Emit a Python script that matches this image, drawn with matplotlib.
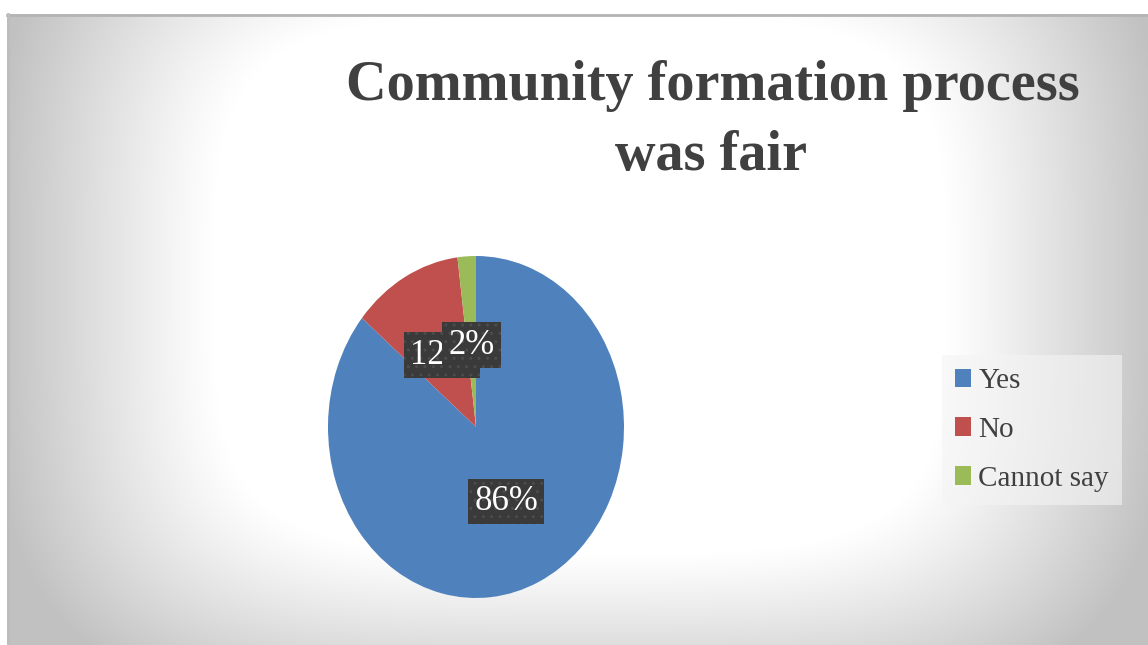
import numpy as np
import matplotlib
matplotlib.use("Agg")
import matplotlib.pyplot as plt
from matplotlib.patches import Patch

# Survey answers
categories = ["Yes", "No", "Cannot say"]
shares = [86, 12, 2]
colors = ["#4f81bd", "#c0504d", "#9bbb59"]
title_lines = ["Community formation process", "was fair"]

W, H = 1148, 645
SERIF = ["Liberation Serif", "DejaVu Serif"]
TEXT_COLOR = "#404040"

fig = plt.figure(figsize=(W / 100, H / 100), dpi=100)
fig.patch.set_facecolor("white")

# Chart-area background: soft white glow fading to grey at the borders
bg = fig.add_axes([0, 0, 1, 1])
bg.set_xlim(0, W)
bg.set_ylim(H, 0)
bg.axis("off")
x0, y0 = 7, 14
yy, xx = np.mgrid[y0:H, x0:W] + 0.5
dx = np.abs(xx - 580) / 570
dy = np.abs(yy - 285) / 420
t = (dx ** 4 + dy ** 4) ** 0.25
u = np.clip((t - 0.64) / 0.38, 0, 1)
v = 1 - 0.24 * u ** 1.1
bg.imshow(np.dstack([v, v, v]), extent=(x0, W, H, y0),
          interpolation="bilinear", aspect="auto", zorder=0)
bg.plot([x0, W], [y0 + 1, y0 + 1], color="#b4b4b4", lw=2, zorder=1)
bg.plot([x0 + 1, x0 + 1], [y0, H], color="#bdbdbd", lw=2, zorder=1)

# Pie, stretched vertically
rx, ry = 148, 171
cx, cy = 476, 427
ax = fig.add_axes([(cx - 1.25 * rx) / W, (H - cy - 1.25 * ry) / H,
                   2.5 * rx / W, 2.5 * ry / H])
wedges, _, autotexts = ax.pie(
    shares, colors=colors, startangle=90, counterclock=False,
    autopct="%1.0f%%", pctdistance=0.48,
    wedgeprops=dict(linewidth=0))
ax.set_aspect("auto")
ax.set_xlim(-1.25, 1.25)
ax.set_ylim(-1.25, 1.25)
ax.axis("off")
ax.patch.set_alpha(0)

for txt in autotexts:
    txt.set_color("white")
    txt.set_fontsize(25)
    txt.set_family(SERIF)
    txt.set_bbox(dict(boxstyle="square,pad=0.18", facecolor="#3a3a3a",
                      edgecolor="#4c4c4c", hatch="..", linewidth=0))

# Title
fig.text(713 / W, 1 - 100 / H, title_lines[0], ha="center", va="baseline",
         fontsize=40.5, fontweight="bold", color=TEXT_COLOR, family=SERIF)
fig.text(711 / W, 1 - 170 / H, title_lines[1], ha="center", va="baseline",
         fontsize=40.5, fontweight="bold", color=TEXT_COLOR, family=SERIF)

# Legend
handles = [Patch(facecolor=c, edgecolor="none") for c in colors]
leg = fig.legend(handles, categories, loc="upper left",
                 bbox_to_anchor=(942 / W, 1 - 355 / H),
                 prop=dict(family=SERIF, size=21),
                 handlelength=0.55, handleheight=0.6, handletextpad=0.25,
                 labelspacing=0.78, borderpad=0.45, borderaxespad=0,
                 frameon=True, fancybox=False)
leg.get_frame().set_facecolor("#f4f4f4")
leg.get_frame().set_alpha(0.6)
leg.get_frame().set_edgecolor("none")
for lt in leg.get_texts():
    lt.set_color(TEXT_COLOR)

fig.savefig("out.png", dpi=100)
